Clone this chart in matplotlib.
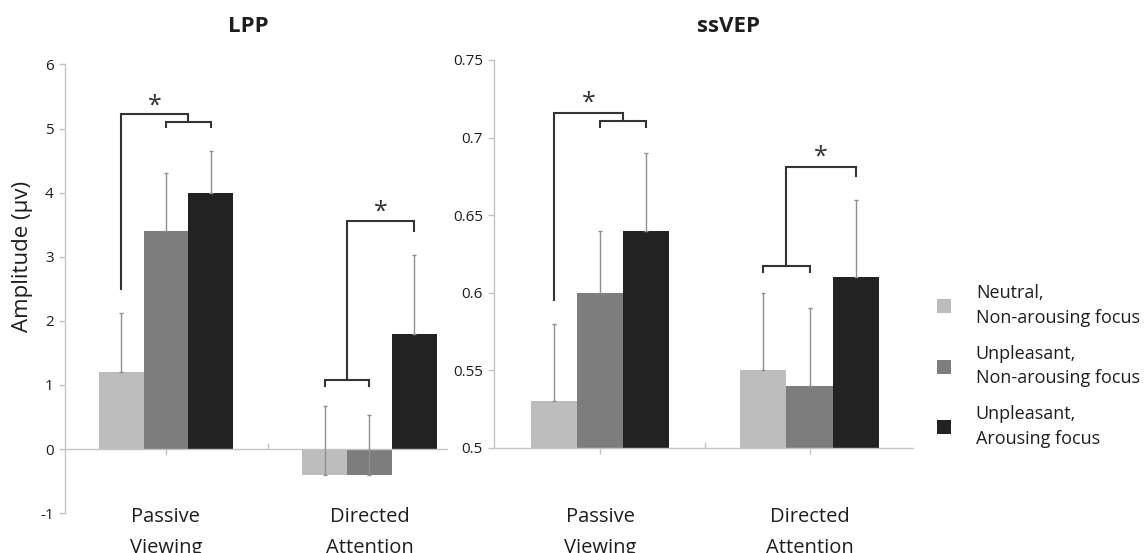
import matplotlib.pyplot as plt
import matplotlib.transforms as mtransforms
from matplotlib.patches import Patch
from matplotlib.ticker import FixedLocator

plt.rcParams['font.family'] = ['Open Sans', 'DejaVu Sans']
plt.rcParams['axes.unicode_minus'] = False

tasks = ['Passive\nViewing', 'Directed\nAttention']
conditions = ['Neutral,\nNon-arousing focus',
              'Unpleasant,\nNon-arousing focus',
              'Unpleasant,\nArousing focus']
colors = ['#bdbdbd', '#7d7d7d', '#222222']

# means per condition (rows) for each task (columns), upper error bar length
lpp_means = [[1.2, -0.4], [3.4, -0.4], [4.0, 1.8]]
lpp_err = [[0.93, 1.07], [0.90, 0.93], [0.65, 1.22]]
ssvep_means = [[0.53, 0.55], [0.60, 0.54], [0.64, 0.61]]
ssvep_err = [[0.05, 0.05], [0.04, 0.05], [0.05, 0.05]]

w = 0.22
axis_gray = '#c4c4c4'
ink = '#333333'
text_col = '#1e1e1e'

fig = plt.figure(figsize=(11.48, 5.53), dpi=100)
ax1 = fig.add_axes([0.0566, 0.072, 0.3328, 0.8114])
ax2 = fig.add_axes([0.4303, 0.190, 0.3650, 0.7016])


def draw_bars(ax, means, errs):
    for ci, (m, e) in enumerate(zip(means, errs)):
        xs = [t + (ci - 1) * w for t in range(len(tasks))]
        ax.bar(xs, m, width=w, color=colors[ci], zorder=2)
        ax.errorbar(xs, m, yerr=[[0] * len(e), e], fmt='none', ecolor='#8f8f8f',
                    elinewidth=1, capsize=1.5, capthick=1, zorder=3)


def comb(ax, x1, x2, y, drop):
    ax.plot([x1, x1, x2, x2], [y - drop, y, y, y - drop], color=ink, lw=1.5,
            solid_joinstyle='miter', zorder=4)


def leg(ax, x1, y1, x2, y2, y3):
    ax.plot([x1, x1, x2, x2], [y1, y2, y2, y3], color=ink, lw=1.5,
            solid_joinstyle='miter', zorder=4)


def star(ax, x, y):
    ax.text(x, y, '*', ha='center', va='center', fontsize=18, color=ink)


def style_axes(ax):
    for s in ['top', 'right']:
        ax.spines[s].set_visible(False)
    for s in ['left', 'bottom']:
        ax.spines[s].set_color(axis_gray)
        ax.spines[s].set_linewidth(1)
    ax.tick_params(axis='y', colors=axis_gray, labelcolor=text_col, labelsize=11,
                   length=4, width=1, pad=4)
    ax.xaxis.set_major_locator(FixedLocator([0, 1]))
    ax.xaxis.set_minor_locator(FixedLocator([0.5, 1.5]))
    ax.tick_params(axis='x', which='major', colors=axis_gray, length=4, width=1,
                   labelbottom=False)
    ax.tick_params(axis='x', which='minor', colors=axis_gray, length=4, width=1,
                   direction='in')
    # category names sit low, in line across both panels
    trans = mtransforms.blended_transform_factory(ax.transData, fig.transFigure)
    for t, name in enumerate(tasks):
        ax.text(t, 1 - 507 / 553, name, transform=trans, ha='center', va='top',
                fontsize=14.5, linespacing=1.75, color=text_col)


# LPP panel
draw_bars(ax1, lpp_means, lpp_err)
style_axes(ax1)
ax1.set_xlim(-0.496, 1.381)
ax1.set_ylim(-1, 6)
ax1.set_yticks(range(-1, 7))
ax1.spines['bottom'].set_position(('data', 0))
ax1.set_ylabel('Amplitude (µv)', fontsize=16, color=text_col)
ax1.yaxis.set_label_coords(-0.083, 0.572)
leg(ax1, -w, 2.5, w / 2, 5.22, 5.1)
comb(ax1, 0, w, 5.1, 0.08)
star(ax1, -w / 4, 5.35)
comb(ax1, 1 - w, 1, 1.07, 0.08)
leg(ax1, 1 - w / 2, 1.07, 1 + w, 3.56, 3.4)
star(ax1, 1 + w / 4, 3.7)

# ssVEP panel
draw_bars(ax2, ssvep_means, ssvep_err)
style_axes(ax2)
ax2.set_xlim(-0.506, 1.494)
ax2.set_ylim(0.5, 0.75)
ax2.set_yticks([0.5, 0.55, 0.6, 0.65, 0.7, 0.75])
ax2.set_yticklabels(['0.5', '0.55', '0.6', '0.65', '0.7', '0.75'])
leg(ax2, -w, 0.5955, w / 2, 0.7155, 0.7107)
comb(ax2, 0, w, 0.7107, 0.004)
star(ax2, -w / 4, 0.7225)
comb(ax2, 1 - w, 1, 0.6175, 0.004)
leg(ax2, 1 - w / 2, 0.6175, 1 + w, 0.6811, 0.675)
star(ax2, 1 + w / 4, 0.6875)

# panel titles
fig.text(248 / 1148, 1 - 32 / 553, 'LPP', ha='center', va='baseline',
         fontsize=16, fontweight='bold', color=text_col)
fig.text(728 / 1148, 1 - 32 / 553, 'ssVEP', ha='center', va='baseline',
         fontsize=16, fontweight='bold', color=text_col)

handles = [Patch(facecolor=c, edgecolor='none') for c in colors]
lg = fig.legend(handles, conditions, loc='center left',
                bbox_to_anchor=(937 / 1148, 1 - 366 / 553), frameon=False,
                fontsize=13, handlelength=0.8, handleheight=0.8,
                handletextpad=1.35, labelspacing=1.0, borderpad=0,
                borderaxespad=0, labelcolor=text_col)
for t in lg.get_texts():
    t.set_linespacing(1.45)

fig.savefig('out.png', dpi=100)
